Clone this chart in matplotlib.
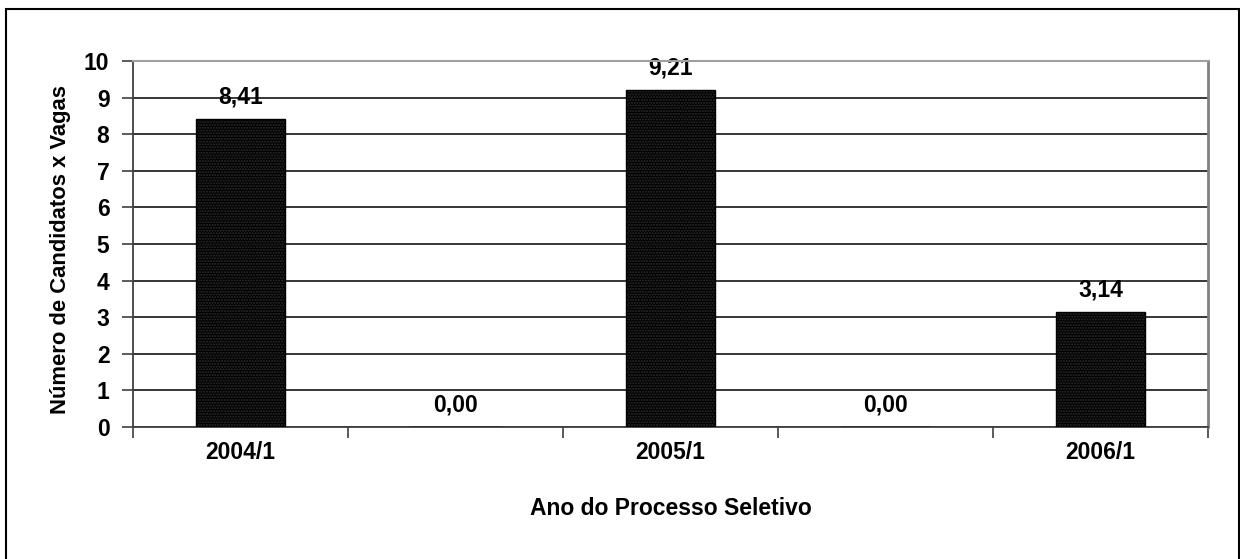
import matplotlib.pyplot as plt
from matplotlib.patches import Rectangle

plt.rcParams["font.family"] = ["Liberation Sans", "DejaVu Sans"]
plt.rcParams["font.weight"] = "bold"

# candidates per vacancy for each selection process
periodos = ["2004/1", "", "2005/1", "", "2006/1"]
relacao = [8.41, 0.00, 9.21, 0.00, 3.14]
yticks = list(range(0, 11))

fs = 16.5
W, H = 1240, 559
fig = plt.figure(figsize=(W / 100, H / 100), dpi=100)
ax = fig.add_axes([133 / W, 1 - 427 / H, (1208 - 133) / W, (427 - 61) / H])

x = list(range(len(relacao)))
ax.bar(x, relacao, width=0.414, color="black", edgecolor="#2e2e2e",
       linewidth=0, hatch="......", zorder=3)
ax.bar(x, relacao, width=0.414, fill=False, edgecolor="black",
       linewidth=1, zorder=4)

for xi, v in zip(x, relacao):
    ax.annotate(f"{v:.2f}".replace(".", ","), (xi, v), xytext=(0, 16),
                textcoords="offset points", ha="center", va="center",
                fontsize=fs, fontweight="bold", zorder=5)

ax.set_xlim(-0.5, len(relacao) - 0.5)
ax.set_ylim(0, 10)
ax.set_yticks(yticks)
ax.yaxis.grid(True, color="black", linewidth=1.1, zorder=1)

# boundary ticks between categories, labels centred below the bars
ax.set_xticks([i - 0.5 for i in range(len(relacao) + 1)])
ax.set_xticklabels([])
ax.set_xticks(x, minor=True)
ax.set_xticklabels(periodos, minor=True)
ax.tick_params(axis="x", which="major", direction="out", length=8,
               width=1.2, color="#404040")
ax.tick_params(axis="x", which="minor", length=0, pad=10, labelsize=fs)
ax.tick_params(axis="y", direction="out", length=8, width=1.2,
               color="#404040", pad=9, labelsize=fs)

for side in ("left", "bottom"):
    ax.spines[side].set_color("#404040")
    ax.spines[side].set_linewidth(1.3)
ax.spines["top"].set_color("#a0a0a0")
ax.spines["top"].set_linewidth(1.5)
ax.spines["right"].set_color("#808080")
ax.spines["right"].set_linewidth(2)
ax.spines["top"].set_zorder(6)

ax.set_ylabel("Número de Candidatos x Vagas", fontsize=15.8, fontweight="bold")
ax.yaxis.set_label_coords((71 - 133) / (1208 - 133), (427 - 250) / (427 - 61))
ax.set_xlabel("Ano do Processo Seletivo", fontsize=fs, fontweight="bold")
ax.xaxis.set_label_coords(0.5, -(497 - 427) / (427 - 61))

# outer chart frame
fig.patches.append(Rectangle((6 / W, -0.05), (1239 - 6) / W, 1.05 - 9 / H,
                             transform=fig.transFigure, fill=False,
                             edgecolor="black", linewidth=1.5))

fig.savefig("out.png", dpi=100)
